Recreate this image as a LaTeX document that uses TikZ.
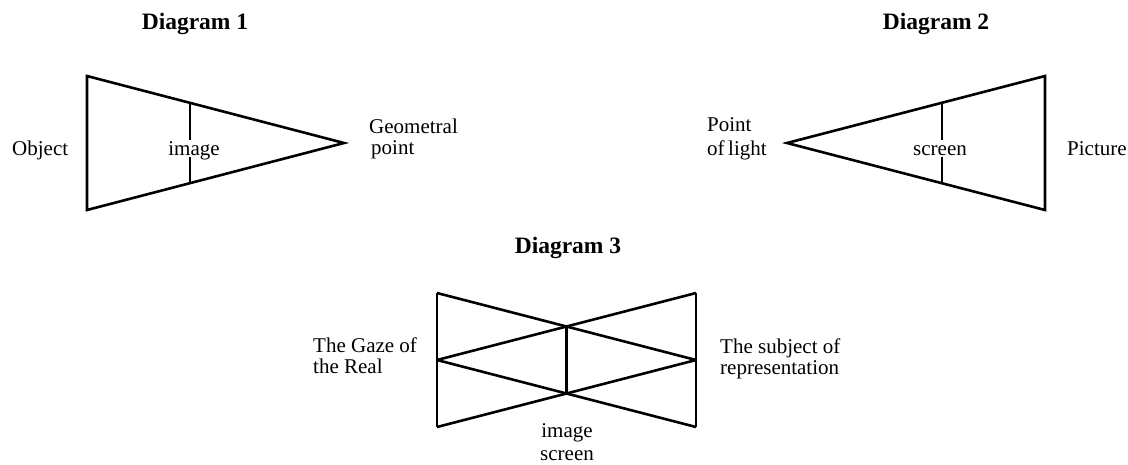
\documentclass[tikz,border=0pt]{standalone}
\usepackage{fontspec}
\setmainfont{Liberation Serif}
\usetikzlibrary{calc}
\begin{document}
\begin{tikzpicture}[x=1pt,y=-1pt,
  lab/.style={inner sep=0pt,font=\fontsize{21}{22}\selectfont},
  ttl/.style={inner sep=0pt,font=\fontsize{23.5}{25}\selectfont\bfseries},
  cut/.style={lab,fill=white,text height=15pt,text depth=2pt},
  edge/.style={line width=2.6pt}]
\useasboundingbox (0,0) rectangle (1128,464);
% Diagram 1
\node[ttl,anchor=base] (t1) at (195,29) {Diagram 1};
\coordinate (A1) at (87,76);
\coordinate (B1) at (87,210);
\coordinate (P1) at (344,143);
\draw[edge] (A1) -- (P1) -- (B1) -- cycle;
\coordinate (I1t) at ($(A1)!0.4!(P1)$);
\coordinate (I1b) at ($(B1)!0.4!(P1)$);
\draw[edge] (I1t) -- (I1b);
\node[lab,anchor=base west] (obj) at (12,155) {Object};
\node[cut,anchor=base] (img1) at (194,155) {image};
\node[lab,anchor=base west] (geo1) at (369,133) {Geometral};
\node[lab,anchor=base west] (geo2) at (371,154) {point};
% Diagram 2
\node[ttl,anchor=base] (t2) at (936,29) {Diagram 2};
\coordinate (P2) at (787,143);
\coordinate (A2) at (1045,76);
\coordinate (B2) at (1045,210);
\draw[edge] (P2) -- (A2) -- (B2) -- cycle;
\coordinate (S2t) at ($(P2)!0.6!(A2)$);
\coordinate (S2b) at ($(P2)!0.6!(B2)$);
\draw[edge] (S2t) -- (S2b);
\node[lab,anchor=base west] (pl1) at (707,131) {Point};
\node[lab,anchor=base west] (pl2) at (707,155) {of\,light};
\node[cut,anchor=base] (scr2) at (940,155) {screen};
\node[lab,anchor=base west] (pic) at (1067,155) {Picture};
% Diagram 3
\node[ttl,anchor=base] (t3) at (568,253) {Diagram 3};
\coordinate (TL) at (437,293);
\coordinate (BL) at (437,427);
\coordinate (TR) at (696,293);
\coordinate (BR) at (696,427);
\coordinate (ML) at (437,360);
\coordinate (MR) at (696,360);
\draw[edge] (TL) -- (BL);
\draw[edge] (TR) -- (BR);
\draw[edge] (TL) -- (MR);
\draw[edge] (TR) -- (ML);
\draw[edge] (BL) -- (MR);
\draw[edge] (BR) -- (ML);
\coordinate (U) at ($(TL)!0.5!(MR)$);
\coordinate (L) at ($(BL)!0.5!(MR)$);
\draw[edge] (U) -- (L);
\node[lab,anchor=base west] (gz1) at (313,352) {The Gaze of};
\node[lab,anchor=base west] (gz2) at (313,373) {the Real};
\node[lab,anchor=base west] (sr1) at (720,353) {The subject of};
\node[lab,anchor=base west] (sr2) at (720,374) {representation};
\node[lab,anchor=base] (img3) at (567,437) {image};
\node[lab,anchor=base] (scr3) at (567,460) {screen};
\end{tikzpicture}
\end{document}
